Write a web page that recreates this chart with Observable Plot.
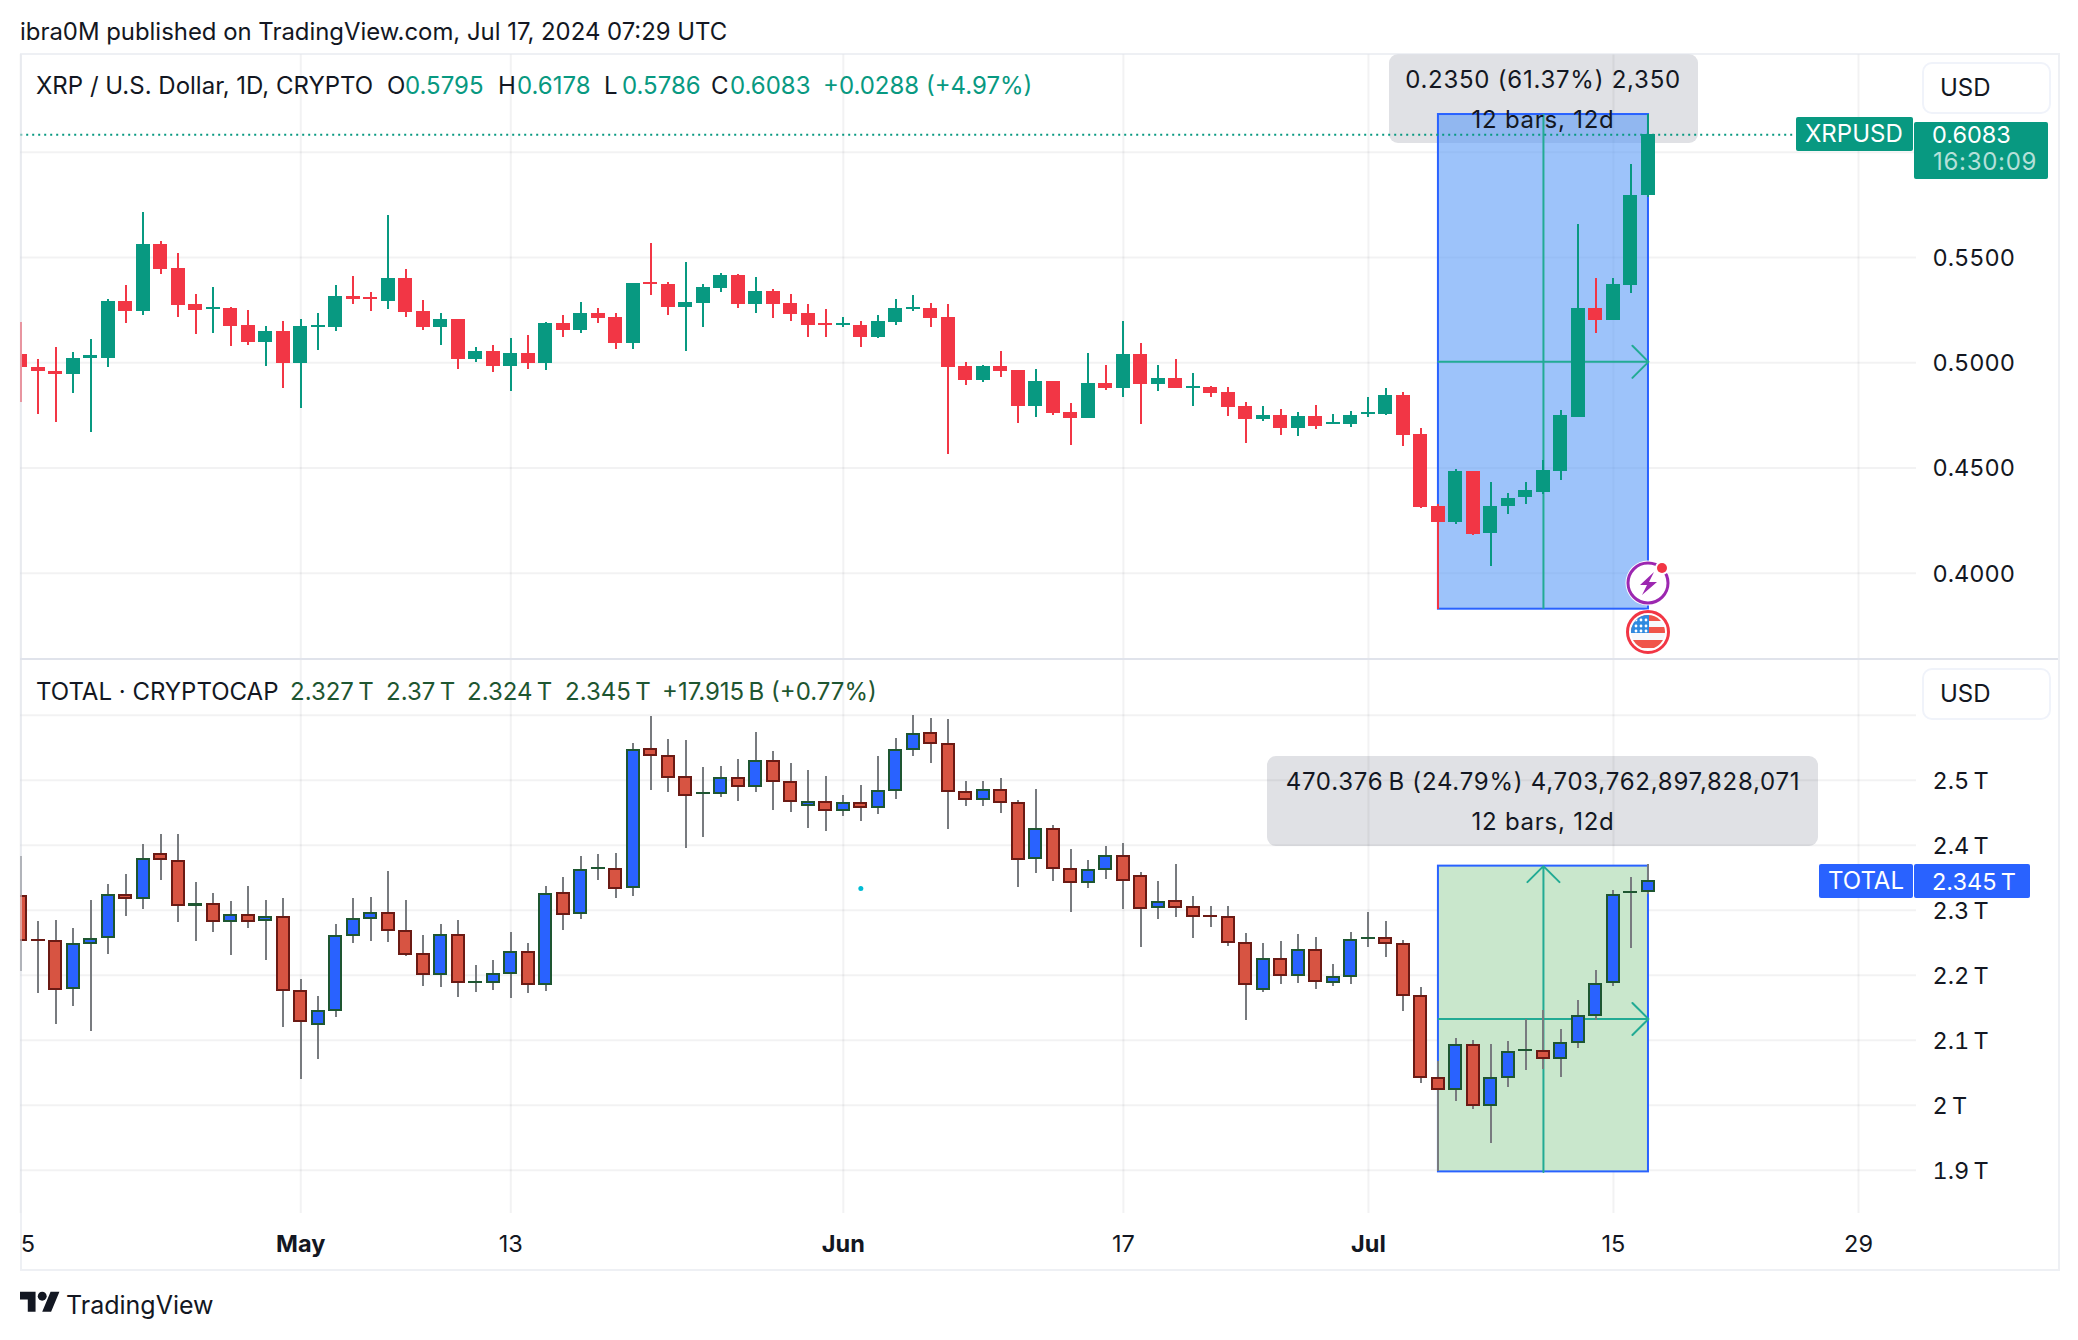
<!DOCTYPE html>
<html>
<head>
<meta charset="utf-8">
<script src="https://cdn.jsdelivr.net/npm/d3@7"></script>
<script src="https://cdn.jsdelivr.net/npm/@observablehq/plot@0.6"></script>
<style>
html,body{margin:0;padding:0;background:#fff}
#root{position:relative;width:2078px;height:1340px;overflow:hidden;font-family:Inter,sans-serif;color:#131722;background:#fff}
#plots{position:absolute;left:0;top:54px;width:2078px;z-index:1}
#plots svg{display:block;background:transparent}
.t{position:absolute;white-space:nowrap;line-height:1;transform:translateY(-50%);font-size:24px;z-index:3}
.c{transform:translate(-50%,-50%);letter-spacing:.75px}
.s{letter-spacing:.7px}
.v{font-size:23.5px}
.g{color:#089981}.d{color:#1e5631}
.tip{position:absolute;background:#e0e1e5;border-radius:9px;z-index:0}
.btn{position:absolute;border:2px solid #f0f3fa;border-radius:10px;background:#fff;z-index:2;box-sizing:border-box}
.tag{position:absolute;z-index:2;border-radius:2px}
</style>
</head>
<body>
<div id="root">
  <div class="t" style="left:20px;top:32px;font-size:23.9px">ibra0M published on TradingView.com, Jul 17, 2024 07:29 UTC</div>

  <div class="tip" style="left:1389px;top:54px;width:309px;height:89px"></div>
  <div class="tip" style="left:1267px;top:756px;width:551px;height:90px"></div>

  <div id="plots"></div>

  <div style="position:absolute;left:20px;top:53px;width:2036px;height:1214px;border:2px solid rgba(224,227,235,.55);z-index:2;pointer-events:none"></div>
  <div style="position:absolute;left:20px;top:658px;width:2038px;height:2px;background:#e0e3eb;z-index:2"></div>

  <div class="t" style="left:36px;top:86px">XRP / U.S. Dollar, 1D, CRYPTO</div>
  <div class="t" style="left:387px;top:86px">O</div><div class="t g" style="left:405px;top:86px">0.5795</div>
  <div class="t" style="left:498px;top:86px">H</div><div class="t g" style="left:517px;top:86px">0.6178</div>
  <div class="t" style="left:604px;top:86px">L</div><div class="t g" style="left:622px;top:86px">0.5786</div>
  <div class="t" style="left:711px;top:86px">C</div><div class="t g" style="left:730px;top:86px">0.6083</div>
  <div class="t g" style="left:823px;top:86px">+0.0288 (+4.97%)</div>

  <div class="t" style="left:36px;top:692px">TOTAL · CRYPTOCAP</div>
  <div class="t d" style="left:290px;top:692px">2.327&#8239;T</div>
  <div class="t d" style="left:386px;top:692px">2.37&#8239;T</div>
  <div class="t d" style="left:467px;top:692px">2.324&#8239;T</div>
  <div class="t d" style="left:565px;top:692px">2.345&#8239;T</div>
  <div class="t d" style="left:662px;top:692px">+17.915&#8239;B (+0.77%)</div>

  <div class="t c" style="left:1543px;top:80px">0.2350 (61.37%) 2,350</div>
  <div class="t c" style="left:1543px;top:120px">12 bars, 12d</div>
  <div class="t c" style="left:1543px;top:782px">470.376&#8239;B (24.79%) 4,703,762,897,828,071</div>
  <div class="t c" style="left:1543px;top:822px">12 bars, 12d</div>

  <div class="btn" style="left:1922px;top:62px;width:129px;height:52px"></div>
  <div class="t" style="left:1940px;top:88px">USD</div>
  <div class="btn" style="left:1922px;top:668px;width:129px;height:52px"></div>
  <div class="t" style="left:1940px;top:694px">USD</div>

  <div class="tag" style="left:1796px;top:117px;width:117px;height:34px;background:#089981"></div>
  <div class="t" style="left:1805px;top:134px;color:#fff">XRPUSD</div>
  <div class="tag" style="left:1914px;top:122px;width:134px;height:57px;background:#089981"></div>
  <div class="t v" style="left:1932px;top:135px;color:#fff">0.6083</div>
  <div class="t s" style="left:1933px;top:162px;color:#b5e0d9">16:30:09</div>

  <div class="tag" style="left:1819px;top:864px;width:94px;height:34px;background:#2962ff"></div>
  <div class="t" style="left:1828px;top:881px;color:#fff">TOTAL</div>
  <div class="tag" style="left:1914px;top:864px;width:116px;height:34px;background:#2962ff"></div>
  <div class="t v" style="left:1932px;top:882px;color:#fff">2.345&#8239;T</div>

  <svg style="position:absolute;left:1622px;top:556px;z-index:3" width="52" height="104" viewBox="0 0 52 104">
    <circle cx="26" cy="27" r="22.5" fill="#fff"/>
    <circle cx="26" cy="27" r="20" fill="#fff" stroke="#9c27b0" stroke-width="3"/>
    <path d="M32 16 L18 29 L25 29 L20 39 L35 26 L27 26 Z" fill="#9c27b0"/>
    <circle cx="40" cy="12" r="7" fill="#fff"/><circle cx="40" cy="12" r="5" fill="#f23645"/>
    <circle cx="26" cy="76" r="22.5" fill="#fff"/>
    <clipPath id="fc"><circle cx="26" cy="76" r="17"/></clipPath>
    <g clip-path="url(#fc)">
      <rect x="8" y="58" width="36" height="36" fill="#f7f8fb"/>
      <rect x="8" y="59" width="36" height="6" fill="#f0544a"/>
      <rect x="8" y="71" width="36" height="6" fill="#f0544a"/>
      <rect x="8" y="84" width="36" height="8" fill="#f0544a"/>
      <rect x="8" y="59" width="19" height="18" fill="#2f8ae0"/>
      <g fill="#fff"><circle cx="14" cy="64" r="1.4"/><circle cx="19" cy="64" r="1.4"/><circle cx="24" cy="64" r="1.4"/><circle cx="14" cy="70" r="1.4"/><circle cx="19" cy="70" r="1.4"/><circle cx="24" cy="70" r="1.4"/><circle cx="14" cy="75" r="1.4"/><circle cx="19" cy="75" r="1.4"/><circle cx="24" cy="75" r="1.4"/></g>
    </g>
    <circle cx="26" cy="76" r="20.5" fill="none" stroke="#f23645" stroke-width="3"/>
  </svg>

  <svg style="position:absolute;left:20px;top:1291px;z-index:3" width="40" height="26" viewBox="0 4 36 22">
    <path d="M14 22H7V11H0V4h14v18zM28 22h-8l7.5-18h8L28 22z" fill="#131722"/><circle cx="20" cy="8" r="4" fill="#131722"/>
  </svg>
  <div class="t" style="left:66px;top:1305px;font-size:25px">TradingView</div>
</div>
<script>
// XRP / U.S. Dollar, daily, Apr 15 – Jul 17 2024
const xrpOpen=[.5037,.4979,.4960,.4946,.5022,.5022,.5289,.5241,.5560,.5446,.5275,.5251,.5256,.5175,.5094,.5146,.4998,.5165,.5165,.5313,.5308,.5289,.5398,.5241,.5165,.5203,.5013,.5055,.4984,.5046,.4994,.5184,.5151,.5232,.5213,.5089,.5379,.5370,.5260,.5279,.5351,.5413,.5275,.5337,.5279,.5232,.5184,.5175,.5179,.5122,.5189,.5251,.5256,.5213,.4984,.4917,.4984,.4965,.4794,.4913,.4765,.4736,.4903,.4879,.5041,.4898,.4927,.4879,.4884,.4860,.4794,.4732,.4751,.4689,.4746,.4708,.4708,.4755,.4755,.4846,.4660,.4317,.4241,.4484,.4189,.4315,.4359,.4385,.4484,.4738,.5256,.5199,.5365,.5795];
const xrpHigh=[.5189,.5017,.5074,.5050,.5108,.5299,.5365,.5713,.5575,.5518,.5322,.5356,.5260,.5246,.5170,.5194,.5203,.5236,.5365,.5408,.5332,.5698,.5441,.5294,.5232,.5203,.5070,.5084,.5113,.5127,.5189,.5222,.5284,.5256,.5232,.5375,.5565,.5379,.5475,.5370,.5422,.5418,.5403,.5346,.5322,.5275,.5251,.5213,.5198,.5222,.5299,.5317,.5279,.5275,.5003,.4989,.5055,.4965,.4970,.4913,.4808,.5046,.4989,.5198,.5089,.4989,.5013,.4951,.4889,.4884,.4813,.4794,.4779,.4765,.4798,.4755,.4770,.4836,.4879,.4860,.4689,.4325,.4494,.4484,.4429,.4378,.4429,.4536,.4775,.5656,.5399,.5399,.5941,.6178];
const xrpLow=[.4813,.4755,.4718,.4855,.4670,.4979,.5184,.5222,.5418,.5213,.5132,.5141,.5079,.5084,.4984,.4879,.4784,.5060,.5146,.5275,.5241,.5251,.5213,.5151,.5084,.4970,.5003,.4955,.4865,.4970,.4965,.5122,.5137,.5184,.5065,.5065,.5317,.5222,.5055,.5165,.5332,.5256,.5232,.5208,.5194,.5122,.5118,.5165,.5074,.5113,.5179,.5241,.5165,.4565,.4894,.4908,.4932,.4713,.4741,.4751,.4608,.4736,.4870,.4836,.4708,.4865,.4879,.4794,.4836,.4746,.4618,.4722,.4655,.4651,.4684,.4708,.4693,.4741,.4751,.4603,.4308,.3829,.4232,.4179,.4032,.4277,.4328,.4372,.4441,.4738,.5137,.5199,.5327,.5786];
const xrpClose=[.4975,.4960,.4946,.5022,.5032,.5289,.5241,.5560,.5441,.5270,.5246,.5260,.5170,.5094,.5146,.4998,.5170,.5175,.5313,.5299,.5299,.5398,.5237,.5165,.5203,.5013,.5055,.4984,.5046,.4994,.5184,.5151,.5232,.5208,.5089,.5375,.5370,.5260,.5284,.5356,.5413,.5275,.5337,.5275,.5227,.5175,.5175,.5184,.5122,.5194,.5256,.5260,.5208,.4979,.4917,.4984,.4960,.4794,.4913,.4760,.4736,.4903,.4879,.5041,.4898,.4927,.4879,.4889,.4855,.4789,.4732,.4751,.4689,.4746,.4698,.4717,.4751,.4765,.4846,.4655,.4312,.4241,.4484,.4184,.4315,.4353,.4391,.4486,.4748,.5256,.5199,.5370,.5794,.6083];

// TOTAL crypto market cap, in trillions of USD
const totalOpen=[2.3225,2.2549,2.2533,2.1779,2.2472,2.2564,2.3241,2.3164,2.3872,2.3764,2.3056,2.3102,2.2810,2.2933,2.2825,2.2902,2.1764,2.1225,2.1441,2.2595,2.2856,2.2964,2.2687,2.2333,2.1995,2.2626,2.1872,2.1872,2.2010,2.2364,2.1841,2.3272,2.2934,2.3626,2.3641,2.3334,2.5487,2.5380,2.5057,2.4780,2.4780,2.5041,2.4888,2.5303,2.4980,2.4595,2.4672,2.4518,2.4657,2.4564,2.4826,2.5457,2.5734,2.5564,2.4826,2.4688,2.4857,2.4657,2.3780,2.4257,2.3641,2.3411,2.3611,2.3841,2.3534,2.3026,2.3149,2.3057,2.2918,2.2903,2.2503,2.1764,2.2257,2.1980,2.2395,2.1872,2.1964,2.2549,2.2580,2.2482,2.1688,2.0426,2.0226,2.0934,1.9980,2.0411,2.0826,2.0841,2.0703,2.0949,2.1364,2.1872,2.3257,2.327];
const totalHigh=[2.3825,2.2825,2.2841,2.2718,2.3149,2.3395,2.3549,2.4010,2.4164,2.4164,2.3425,2.3256,2.3133,2.3364,2.3149,2.3179,2.1933,2.1672,2.2779,2.3179,2.3195,2.3595,2.3149,2.2610,2.2779,2.2841,2.2149,2.2225,2.2656,2.2488,2.3364,2.3503,2.3826,2.3857,2.3872,2.5564,2.5980,2.5626,2.5611,2.5195,2.5211,2.5318,2.5734,2.5441,2.5257,2.5149,2.5057,2.4764,2.4918,2.5364,2.5641,2.5995,2.5949,2.5934,2.4980,2.4980,2.5026,2.4688,2.4857,2.4303,2.3934,2.3764,2.3980,2.4026,2.3580,2.3441,2.3703,2.3211,2.3057,2.3057,2.2641,2.2488,2.2518,2.2626,2.2580,2.2164,2.2657,2.2964,2.2826,2.2534,2.1811,2.0672,2.1026,2.0995,2.0934,2.0980,2.1318,2.1457,2.1164,2.1611,2.2072,2.3303,2.3503,2.37];
const totalLow=[2.2056,2.1718,2.1241,2.1518,2.1133,2.2318,2.2902,2.3010,2.3456,2.2810,2.2518,2.2656,2.2302,2.2718,2.2225,2.1195,2.0395,2.0702,2.1349,2.2487,2.2518,2.2502,2.2287,2.1825,2.1810,2.1656,2.1733,2.1764,2.1641,2.1718,2.1749,2.2688,2.2857,2.3457,2.3180,2.3211,2.4841,2.4811,2.3949,2.4118,2.4734,2.4672,2.4811,2.4534,2.4503,2.4257,2.4211,2.4441,2.4364,2.4472,2.4703,2.5364,2.5257,2.4241,2.4595,2.4595,2.4488,2.3349,2.3564,2.3441,2.2964,2.3334,2.3472,2.3011,2.2426,2.2857,2.2888,2.2565,2.2734,2.2441,2.1303,2.1734,2.1857,2.1872,2.1780,2.1826,2.1857,2.2426,2.2272,2.1441,2.0334,1.8974,2.0057,1.9934,1.9411,2.0272,2.0534,2.0549,2.0426,2.0872,2.1303,2.1826,2.2411,2.324];
const totalClose=[2.2518,2.2518,2.1764,2.2487,2.2564,2.3241,2.3164,2.3795,2.3764,2.3056,2.3102,2.2810,2.2933,2.2810,2.2902,2.1749,2.1272,2.1456,2.2610,2.2872,2.2964,2.2672,2.2302,2.1995,2.2626,2.1872,2.1902,2.2025,2.2364,2.1841,2.3257,2.2918,2.3626,2.3657,2.3318,2.5472,2.5364,2.5026,2.4749,2.4811,2.5041,2.4888,2.5303,2.4964,2.4657,2.4672,2.4518,2.4657,2.4564,2.4841,2.5472,2.5718,2.5549,2.4811,2.4688,2.4857,2.4641,2.3764,2.4257,2.3626,2.3411,2.3626,2.3841,2.3441,2.3011,2.3134,2.3026,2.2888,2.2888,2.2488,2.1841,2.2257,2.1980,2.2395,2.1888,2.1980,2.2549,2.2580,2.2472,2.1672,2.0411,2.0226,2.0934,1.9980,2.0426,2.0826,2.0857,2.0703,2.0964,2.1380,2.1872,2.3241,2.3288,2.345];

// Axes and measure tools
const xrpTicks=[0.40,0.45,0.50,0.55];
const xrpGrid=[0.40,0.45,0.50,0.55,0.60];
const totalTicks=[1.9,2.0,2.1,2.2,2.3,2.4,2.5];
const totalGrid=[1.9,2.0,2.1,2.2,2.3,2.4,2.5,2.6];
const dateTicks=[[2024,3,15],[2024,4,1],[2024,4,13],[2024,5,1],[2024,5,17],[2024,6,1],[2024,6,15],[2024,6,29]].map(a=>new Date(Date.UTC(...a)));
const dateLabels=["5","May","13","Jun","17","Jul","15","29"];
const monthLabels=["May","Jun","Jul"];
const measureStart=new Date(Date.UTC(2024,6,5)), measureEnd=new Date(Date.UTC(2024,6,17)), measureMid=new Date(Date.UTC(2024,6,11));
const xrpMeasure=[0.3829,0.6179], totalMeasure=[1.8974,2.3678];
const lastXrp=0.6083;
const strayDot=[{date:new Date(Date.UTC(2024,5,2)),value:2.3334}];

const days=d3.utcDay.range(Date.UTC(2024,3,15),Date.UTC(2024,6,18));
const halfBar=9.6*3600e3;
function rows(o,h,l,c){return days.map((d,i)=>({date:d,x1:new Date(+d-halfBar),x2:new Date(+d+halfBar),
  h:h[i],l:l[i],top:Math.max(o[i],c[i]),bot:Math.min(o[i],c[i]),up:c[i]>=o[i]}));}
const xrp=rows(xrpOpen,xrpHigh,xrpLow,xrpClose), total=rows(totalOpen,totalHigh,totalLow,totalClose);
const tickRows=dateTicks.map((date,i)=>({date,label:dateLabels[i],month:monthLabels.includes(dateLabels[i])}));

const gridStyle={stroke:"#363a45",strokeOpacity:0.065,strokeWidth:2};
const crisp={shapeRendering:"crispEdges"};
const xScale={type:"utc",domain:[dateTicks[0],dateTicks[7]],range:[20.2,1858],axis:null};
const teal="#22ab94", boxBlue="#2962ff";
const fontStyle={fontFamily:"Inter, sans-serif",fontSize:"23.5px",color:"#131722",background:"transparent"};

function measure(range,fill,opacity,vertArrow){
  const mid=(range[0]+range[1])/2;
  return [
    Plot.rect([0],{x1:measureStart,x2:measureEnd,y1:range[0],y2:range[1],fill,fillOpacity:opacity,stroke:boxBlue,strokeWidth:2}),
    Plot.arrow([0],{x1:measureStart,x2:measureEnd,y1:mid,y2:mid,stroke:teal,strokeWidth:2,headAngle:90,headLength:17,bend:0}),
    vertArrow
      ? Plot.arrow([0],{x1:measureMid,x2:measureMid,y1:range[0],y2:range[1],stroke:teal,strokeWidth:2,headAngle:90,headLength:17,bend:0})
      : Plot.ruleX([measureMid],{y1:range[0],y2:range[1],stroke:teal,strokeWidth:2})
  ];
}

const plotTop=Plot.plot({
  width:2078,height:605,marginLeft:20,marginRight:162,marginTop:0,marginBottom:0,
  style:fontStyle,
  x:xScale,
  y:{domain:[0.4,0.6],range:[518.7,97.7],axis:null},
  marks:[
    Plot.ruleX(dateTicks,gridStyle),
    Plot.ruleY(xrpGrid,gridStyle),
    ...measure(xrpMeasure,"#5c9bf7",0.6,false),
    Plot.ruleY([lastXrp],{x1:dateTicks[0],x2:new Date(Date.UTC(2024,6,26)),stroke:"#089981",strokeWidth:2,strokeDasharray:"2 4",clip:true}),
    Plot.ruleX(xrp,{x:"date",y1:"l",y2:"h",stroke:d=>d.up?"#089981":"#f23645",strokeWidth:2,clip:true,...crisp}),
    Plot.rect(xrp,{x1:"x1",x2:"x2",y1:"bot",y2:"top",fill:d=>d.up?"#089981":"#f23645",clip:true,...crisp}),
    Plot.axisY({anchor:"right",ticks:xrpTicks,tickSize:0,tickPadding:16,dy:1,tickFormat:d3.format(".4f"),label:null,color:"#131722"})
  ]
});

const plotBottom=Plot.plot({
  width:2078,height:610,marginLeft:20,marginRight:162,marginTop:0,marginBottom:56,
  style:fontStyle,
  x:xScale,
  y:{domain:[1.9,2.5],range:[510.7,120.7],axis:null},
  marks:[
    Plot.ruleX(dateTicks,gridStyle),
    Plot.ruleY(totalGrid,gridStyle),
    ...measure(totalMeasure,"#c9e7cc",1,true),
    Plot.dot(strayDot,{x:"date",y:"value",r:2.5,fill:"#00bcd4"}),
    Plot.ruleX(total,{x:"date",y1:"l",y2:"h",stroke:"#787b7f",strokeWidth:2,clip:true,...crisp}),
    Plot.rect(total,{x1:"x1",x2:"x2",y1:"bot",y2:"top",fill:d=>d.up?"#1e5631":"#6b1a14",clip:true,...crisp}),
    Plot.rect(total,{x1:"x1",x2:"x2",y1:"bot",y2:"top",inset:2,fill:d=>d.up?"#2962ff":"#d75442",clip:true,...crisp}),
    Plot.axisY({anchor:"right",ticks:totalTicks,tickSize:0,tickPadding:16,dy:1,tickFormat:v=>(v===2?"2":v.toFixed(1))+"\u202fT",label:null,color:"#131722"}),
    Plot.text(tickRows.filter((d,i)=>i>0&&!d.month),{x:"date",text:"label",frameAnchor:"bottom",dy:38,textAnchor:"middle"}),
    Plot.text(tickRows.filter(d=>d.month),{x:"date",text:"label",frameAnchor:"bottom",dy:38,textAnchor:"middle",fontWeight:700}),
    Plot.text(tickRows.slice(0,1),{x:"date",text:"label",frameAnchor:"bottom",dy:38,textAnchor:"start"})
  ]
});

document.getElementById("plots").append(plotTop,plotBottom);
</script>
</body>
</html>
